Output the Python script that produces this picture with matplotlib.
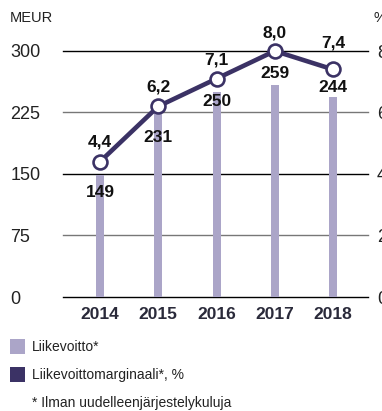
import matplotlib
matplotlib.use("Agg")
import matplotlib.pyplot as plt
from matplotlib.patches import Rectangle
import numpy as np

years = ["2014", "2015", "2016", "2017", "2018"]
liikevoitto = [149, 231, 250, 259, 244]          # MEUR
marginaali = [4.4, 6.2, 7.1, 8.0, 7.4]           # %
marginaali_labels = ["4,4", "6,2", "7,1", "8,0", "7,4"]
left_ticks = [0, 75, 150, 225, 300]
right_ticks = [0, 2, 4, 6, 8]

bar_color = "#aba5c8"
line_color = "#3b3265"

W, H = 382, 411
fig = plt.figure(figsize=(W / 100, H / 100), dpi=100)
plt.rcParams['font.family'] = ['Liberation Sans', 'DejaVu Sans']

x0, x1 = 63, 368
ybot, ytop = 297, 51
ax = fig.add_axes([x0 / W, 1 - ybot / H, (x1 - x0) / W, (ybot - ytop) / H])
x = np.arange(len(years))
ax.set_xlim(-0.635, 4.6)
ax.set_ylim(0, 300)

# grid lines
grid_cols = ["#000000", "#777777", "#000000", "#777777", "#000000"]
for t, c in zip(left_ticks, grid_cols):
    ax.axhline(t, color=c, lw=1.0, zorder=1, clip_on=False)

ax.bar(x, liikevoitto, width=0.137, color=bar_color, zorder=2)

ax2 = ax.twinx()
ax2.set_ylim(0, 8)
ax2.plot(x, marginaali, color=line_color, lw=3.3, zorder=3,
         marker="o", markersize=10, markerfacecolor="white",
         markeredgecolor=line_color, markeredgewidth=1.9, clip_on=False)

for a in (ax, ax2):
    for s in a.spines.values():
        s.set_visible(False)

ax.set_yticks(left_ticks)
ax.set_yticklabels([str(t) for t in left_ticks], ha="left")
ax.tick_params(axis="y", length=0, pad=38, labelsize=13, labelcolor="#222222")
ax2.set_yticks(right_ticks)
ax2.set_yticklabels([str(t) for t in right_ticks])
ax2.tick_params(axis="y", length=0, pad=6.5, labelsize=13, labelcolor="#222222")

ax.set_xticks(x)
ax.set_xticklabels(years, fontweight="bold")
ax.tick_params(axis="x", length=0, pad=7, labelsize=12.5, labelcolor="#2a2a3a")

# value labels
val_dy = [-31, -31, -23, -22, -18]
pct_dy = [20, 19, 19, 18, 26]
for i in range(len(years)):
    ax2.annotate(str(liikevoitto[i]), (x[i], marginaali[i]), xytext=(0, val_dy[i] * 0.72),
                 textcoords="offset points", ha="center", va="center",
                 fontsize=12.5, fontweight="bold", color="#111111", zorder=5,
                 annotation_clip=False)
    ax2.annotate(marginaali_labels[i], (x[i], marginaali[i]), xytext=(0, pct_dy[i] * 0.72),
                 textcoords="offset points", ha="center", va="center",
                 fontsize=12.5, fontweight="bold", color="#111111", zorder=5,
                 annotation_clip=False)

fig.text(10 / W, 1 - 18.5 / H, "MEUR", fontsize=10.5, color="#222222", va="center", ha="left")
fig.text(374 / W, 1 - 18.5 / H, "%", fontsize=10.5, color="#222222", va="center", ha="left")

# legend
fig.patches.append(Rectangle((10 / W, 1 - 354 / H), 15 / W, 15 / H, transform=fig.transFigure,
                             facecolor=bar_color, edgecolor="none"))
fig.patches.append(Rectangle((10 / W, 1 - 382 / H), 15 / W, 15 / H, transform=fig.transFigure,
                             facecolor=line_color, edgecolor="none"))
fig.text(32 / W, 1 - 347 / H, "Liikevoitto*", fontsize=10, color="#222222", va="center", ha="left")
fig.text(32 / W, 1 - 375 / H, "Liikevoittomarginaali*, %", fontsize=10, color="#222222", va="center", ha="left")
fig.text(32 / W, 1 - 403 / H, "* Ilman uudelleenjärjestelykuluja", fontsize=10, color="#222222", va="center", ha="left")

fig.savefig("out.png", dpi=100)
